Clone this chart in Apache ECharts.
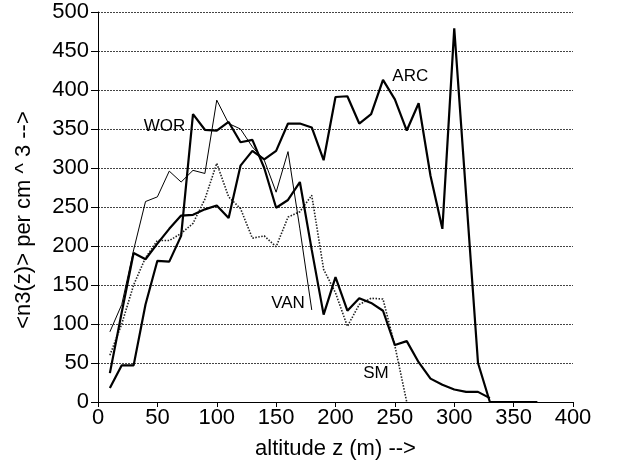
<!DOCTYPE html>
<html>
<head>
<meta charset="utf-8">
<script src="https://cdn.jsdelivr.net/npm/echarts@6/dist/echarts.min.js"></script>
<style>
html,body{margin:0;padding:0;background:#fff;}
#chart{width:629px;height:468px;}
</style>
</head>
<body>
<div id="chart"></div>
<script>
// ---- data (altitude in m, <n3(z)> per cm^3) ----
const arcAlt = [10,20,30,40,50,60,70,80,90,100,110,120,130,140,150,160,170,180,190,200,210,220,230,240,250,260,270,280,290,300,310,320,330,340,350,360,370];
const arcVal = [37,115,191,183,203,222,239,240,247,252,236,303,322,311,322,357,357,352,310,391,392,357,369,413,388,348,383,290,222,479,265,50,0,0,0,0,0];

const worAlt = [10,20,30,40,50,60,70,80,90,100,110,120,130,140,150,160,170,180,190,200,210,220,230,240,250,260,270,280,290,300,310,320,330];
const worVal = [18,47,47,125,181,180,213,369,349,348,359,333,336,300,249,259,282,195,112,160,117,133,127,117,73,78,51,30,22,16,13,13,5];

const vanAlt = [10,20,30,40,50,60,70,80,90,100,110,120,130,140,150,160,170,180];
const vanVal = [90,125,195,257,263,296,282,297,293,387,357,350,327,310,269,321,222,118];

const smAlt = [10,20,30,40,50,60,70,80,90,100,110,120,130,140,150,160,170,180,190,200,210,220,230,240,250,260];
const smVal = [60,100,150,185,207,207,216,229,260,306,263,248,210,213,199,237,244,265,170,140,97,125,133,132,72,0];

// series name labels placed in data coordinates
const labelNames = ['WOR','VAN','ARC','SM'];
const labelAlt   = [56, 160, 263, 234];
const labelVal   = [353, 126, 417, 37];

const xTicks = {min:0, max:400, step:50};
const yTicks = {min:0, max:500, step:50};

function pairs(xs, ys){ return xs.map((x,i)=>[x, ys[i]]); }

const FONT = "'Liberation Sans', Arial, Helvetica, sans-serif";
const chart = echarts.init(document.getElementById('chart'), null, {renderer:'canvas'});

chart.setOption({
  backgroundColor:'#ffffff',
  animation:false,
  grid:{left:98, right:56, top:12, bottom:66, containLabel:false},
  xAxis:[{
    type:'value', min:xTicks.min, max:xTicks.max, interval:xTicks.step,
    axisLine:{show:true, onZero:false, lineStyle:{color:'#000', width:1}},
    axisTick:{show:true, inside:false, length:5, lineStyle:{color:'#000'}},
    axisLabel:{show:true, fontSize:22, color:'#000', fontFamily:FONT, margin:5},
    splitLine:{show:false},
    name:'altitude z (m) -->', nameLocation:'middle', nameGap:36,
    nameTextStyle:{fontSize:22, color:'#000', fontFamily:FONT}
  },{
    type:'value', position:'top', min:xTicks.min, max:xTicks.max,
    axisLine:{show:true, lineStyle:{color:'#000', width:1}},
    axisTick:{show:false}, axisLabel:{show:false}, splitLine:{show:false}
  }],
  yAxis:{
    type:'value', min:yTicks.min, max:yTicks.max, interval:yTicks.step,
    axisLine:{show:true, lineStyle:{color:'#000', width:1}},
    axisTick:{show:true, inside:false, length:7, lineStyle:{color:'#000'}},
    axisLabel:{show:true, fontSize:22, color:'#000', fontFamily:FONT, margin:9},
    splitLine:{show:true, lineStyle:{color:'#444', width:1, type:[2,1]}}
  },
  graphic:[{
    type:'text', x:24, y:220, rotation:Math.PI/2,
    style:{text:'<n3(z)> per cm ^ 3 -->', fontSize:22, fontFamily:FONT, fill:'#000',
           textAlign:'center', textVerticalAlign:'middle'}
  }],
  series:[
    {name:'ARC', type:'line', data:pairs(arcAlt, arcVal), symbol:'none',
     lineStyle:{color:'#000', width:2.2}, z:4},
    {name:'WOR', type:'line', data:pairs(worAlt, worVal), symbol:'none',
     lineStyle:{color:'#000', width:2.2}, z:4},
    {name:'VAN', type:'line', data:pairs(vanAlt, vanVal), symbol:'none',
     lineStyle:{color:'#000', width:1}, z:3},
    {name:'SM', type:'line', data:pairs(smAlt, smVal), symbol:'none',
     lineStyle:{color:'#222', width:1.6, type:[1.5,1.5]}, z:3},
    {name:'labels', type:'scatter', symbolSize:0, silent:true,
     itemStyle:{color:'#000', opacity:0},
     data:labelNames.map((n,i)=>({name:n, value:[labelAlt[i], labelVal[i]]})),
     label:{show:true, position:[0,0], align:'center', verticalAlign:'middle',
            formatter:p=>p.name, fontSize:17, color:'#000', opacity:1,
            textBorderWidth:0, fontFamily:FONT}, z:5}
  ]
});
</script>
</body>
</html>
